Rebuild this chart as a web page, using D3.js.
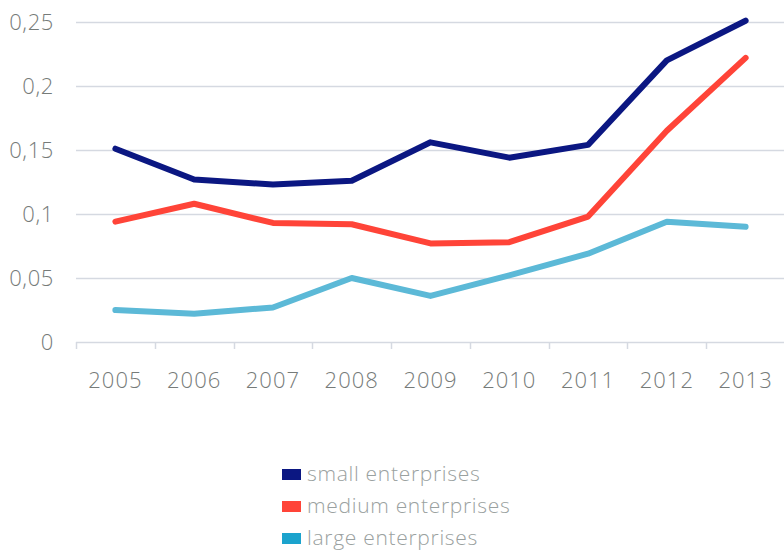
<!DOCTYPE html>
<html>
<head>
<meta charset="utf-8">
<script src="https://cdn.jsdelivr.net/npm/d3@7"></script>
<style>
  body { margin: 0; background: #fff; }
  text { font-family: "Open Sans", sans-serif; font-weight: 300; }
</style>
</head>
<body>
<div id="chart"></div>
<script>
var years = ['2005', '2006', '2007', '2008', '2009', '2010', '2011', '2012', '2013'];
var yTicks = [0, 0.05, 0.1, 0.15, 0.2, 0.25];
var seriesNames = ['small enterprises', 'medium enterprises', 'large enterprises'];
var small = [0.151, 0.127, 0.123, 0.126, 0.156, 0.144, 0.154, 0.220, 0.251];
var medium = [0.094, 0.108, 0.093, 0.092, 0.077, 0.078, 0.098, 0.165, 0.222];
var large = [0.025, 0.022, 0.027, 0.050, 0.036, 0.052, 0.069, 0.094, 0.090];

var lineColors = ['#0b1782', '#ff4438', '#5cb9d7'];
var swatchColors = ['#0b1782', '#ff4438', '#1ba3cd'];

var width = 784,
    height = 550;

var svg = d3.select('#chart')
  .append('svg')
  .attr('width', width)
  .attr('height', height);

var x = d3.scaleBand()
  .domain(years)
  .range([76, 785]);

var y = d3.scaleLinear()
  .domain([0, 0.25])
  .range([342, 22]);

// grid lines
svg.append('g')
  .selectAll('line')
  .data(yTicks)
  .enter()
  .append('line')
  .attr('x1', 76)
  .attr('x2', width)
  .attr('y1', d => Math.round(y(d)) + 0.5)
  .attr('y2', d => Math.round(y(d)) + 0.5)
  .attr('stroke', '#d5d9e1')
  .attr('stroke-width', 1.5);

// y labels
var fmt = d => String(d).replace('.', ',');
svg.append('g')
  .selectAll('text')
  .data(yTicks)
  .enter()
  .append('text')
  .attr('x', 54)
  .attr('y', d => y(d))
  .attr('dy', '0.35em')
  .attr('text-anchor', 'end')
  .style('font-size', '22px')
  .style('letter-spacing', '0.6px')
  .style('fill', '#767b79')
  .text(fmt);

// x tick marks between the years
var tickPos = years.map(d => x(d));
svg.append('g')
  .selectAll('line')
  .data(tickPos)
  .enter()
  .append('line')
  .attr('x1', d => Math.round(d) + 0.5)
  .attr('x2', d => Math.round(d) + 0.5)
  .attr('y1', 342)
  .attr('y2', 349)
  .attr('stroke', '#d5d9e1')
  .attr('stroke-width', 1.5);

// x labels
svg.append('g')
  .selectAll('text')
  .data(years)
  .enter()
  .append('text')
  .attr('x', d => x(d) + x.bandwidth() / 2)
  .attr('y', 380)
  .attr('dy', '0.35em')
  .attr('text-anchor', 'middle')
  .style('font-size', '22px')
  .style('letter-spacing', '1px')
  .style('fill', '#767b79')
  .text(d => d);

// lines
var line = d3.line()
  .x((d, i) => x(years[i]) + x.bandwidth() / 2)
  .y(d => y(d));

svg.append('g')
  .selectAll('path')
  .data([small, medium, large])
  .enter()
  .append('path')
  .attr('d', line)
  .attr('fill', 'none')
  .attr('stroke', (d, i) => lineColors[i])
  .attr('stroke-width', 6)
  .attr('stroke-linejoin', 'round')
  .attr('stroke-linecap', 'round');

// legend
var legend = svg.append('g')
  .selectAll('g')
  .data(seriesNames)
  .enter()
  .append('g')
  .attr('transform', (d, i) => 'translate(282,' + (474 + i * 32) + ')');

legend.append('rect')
  .attr('x', 0)
  .attr('y', -5)
  .attr('width', 19)
  .attr('height', 11)
  .attr('fill', (d, i) => swatchColors[i]);

legend.append('text')
  .attr('x', 25)
  .attr('y', 0)
  .attr('dy', '0.35em')
  .style('font-size', '21px')
  .style('letter-spacing', '0.7px')
  .style('fill', '#9aa1a0')
  .text(d => d);
</script>
</body>
</html>
